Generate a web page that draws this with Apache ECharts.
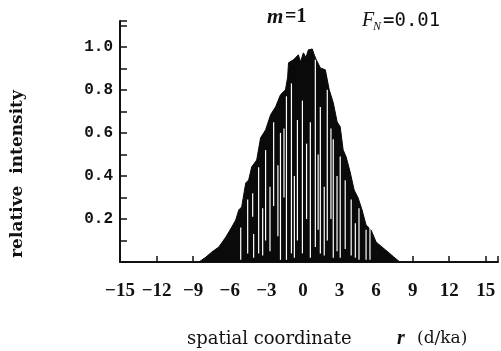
<!DOCTYPE html>
<html>
<head>
<meta charset="utf-8">
<script src="https://cdn.jsdelivr.net/npm/echarts@6/dist/echarts.min.js"></script>
<style>
html,body{margin:0;padding:0;background:#fff;}
#chart{width:501px;height:351px;}
</style>
</head>
<body>
<div id="chart"></div>
<script>
// Envelope of the intensity profile (x in d/ka, y relative intensity)
var envX = [-8.52,-7.95,-7.46,-6.89,-6.32,-5.83,-5.51,-5.26,-5.02,-4.69,-4.45,-4.20,-3.79,-3.47,-3.06,-2.65,-2.24,-1.84,-1.43,-1.25,-1.18,-0.77,-0.37,-0.2,0.04,0.25,0.45,0.77,0.95,1.10,1.43,1.84,2.16,2.49,2.81,3.06,3.30,3.55,3.87,4.20,4.53,4.85,5.18,5.59,6.00,6.48,6.97,7.46,7.95];
var envY = [0,0.023,0.047,0.07,0.116,0.163,0.195,0.242,0.256,0.367,0.381,0.442,0.474,0.577,0.614,0.684,0.721,0.777,0.80,0.86,0.926,0.94,0.963,0.93,0.972,0.95,0.986,0.99,0.96,0.94,0.902,0.893,0.80,0.74,0.651,0.628,0.521,0.488,0.419,0.335,0.298,0.242,0.172,0.149,0.093,0.07,0.047,0.023,0];
// White gaps inside the profile: position, lower and upper value
var gapX    = [-5.10,-4.53,-4.12,-4.04,-3.63,-3.30,-3.06,-2.70,-2.40,-2.05,-1.84,-1.55,-1.35,-0.94,-0.70,-0.45,-0.04,0.30,0.61,1.02,1.25,1.43,1.75,2.00,2.30,2.49,2.80,3.06,3.47,3.96,4.30,4.60,5.18,5.50];
var gapLow  = [0.01,0.04,0.21,0.02,0.04,0.03,0.10,0.05,0.26,0.12,0.01,0.30,0.01,0.04,0.02,0.10,0.04,0.20,0.02,0.07,0.15,0.04,0.03,0.10,0.20,0.02,0.05,0.02,0.06,0.03,0.02,0.01,0.01,0.01];
var gapHigh = [0.16,0.29,0.32,0.13,0.44,0.25,0.52,0.35,0.65,0.45,0.60,0.62,0.77,0.83,0.40,0.66,0.75,0.55,0.65,0.94,0.50,0.72,0.35,0.80,0.62,0.57,0.40,0.49,0.38,0.29,0.18,0.25,0.15,0.17];
// Axis ticks
var xMin = -15, xMax = 16, xStep = 3;
var yMin = 0, yMax = 1.12, yStep = 0.2;

var chart = echarts.init(document.getElementById('chart'), null, {renderer:'canvas'});
var ink = '#111';
var option = {
  animation: false,
  backgroundColor: '#fff',
  grid: {left:120, right:0, top:21, bottom:89, containLabel:false},
  xAxis: {
    type:'value', min:xMin, max:xMax, interval:xStep,
    axisLine:{show:true, onZero:false, lineStyle:{color:ink, width:2}},
    axisTick:{show:true, inside:true, length:6, lineStyle:{color:ink, width:1.5}},
    axisLabel:{
      margin:20, color:ink, fontFamily:'Liberation Serif', fontWeight:'bold', fontSize:19,
      formatter:function(v){ if (v > 15) return ''; return String(v).replace('-', '\u2212'); }
    },
    splitLine:{show:false}
  },
  yAxis: {
    type:'value', min:yMin, max:yMax, interval:yStep,
    axisLine:{show:true, onZero:false, lineStyle:{color:ink, width:2}},
    axisTick:{show:true, inside:true, length:7, lineStyle:{color:ink, width:1.5}},
    minorTick:{show:true, splitNumber:2, length:7, lineStyle:{color:ink, width:1.5}},
    axisLabel:{
      margin:7, color:ink, fontFamily:'Liberation Mono', fontWeight:'bold', fontSize:16,
      showMinLabel:false, showMaxLabel:false,
      formatter:function(v){ if (v === 0 || v > 1.05) return ''; return v.toFixed(1); }
    },
    splitLine:{show:false}
  },
  series: [
    {
      type:'line', data: envX.map(function(x,i){return [x, envY[i]];}),
      showSymbol:false, smooth:false,
      lineStyle:{color:'#0a0a0a', width:1},
      areaStyle:{color:'#0a0a0a', opacity:1},
      z:2
    },
    {
      type:'custom', z:3,
      data: gapX.map(function(x,i){return [x, gapLow[i], gapHigh[i]];}),
      encode:{x:0, y:[1,2]},
      renderItem:function(params, api){
        var p1 = api.coord([api.value(0), api.value(1)]);
        var p2 = api.coord([api.value(0), api.value(2)]);
        return {type:'rect', shape:{x:p1[0]-0.6, y:p2[1], width:1.2, height:p1[1]-p2[1]}, style:{fill:'#fff'}};
      }
    }
  ],
  graphic: [
    {type:'text', left:267, top:7, style:{text:'m', fontFamily:'Liberation Serif', fontStyle:'italic', fontWeight:'bold', fontSize:21, fill:ink}},
    {type:'text', left:285, top:7, style:{text:'=1', fontFamily:'Liberation Serif', fontWeight:'bold', fontSize:20, fill:ink}},
    {type:'text', left:362, top:11, style:{text:'F', fontFamily:'Liberation Serif', fontStyle:'italic', fontSize:20, fill:ink}},
    {type:'text', left:373, top:21, style:{text:'N', fontFamily:'Liberation Serif', fontStyle:'italic', fontSize:12, fill:ink}},
    {type:'text', left:383, top:12, style:{text:'=0.01', fontFamily:'DejaVu Sans Mono', fontSize:19, fill:ink}},
    {type:'text', x:18, y:174, rotation:Math.PI/2, style:{text:'relative  intensity', fontFamily:'DejaVu Serif', fontWeight:'bold', fontSize:17, fill:ink, align:'center', verticalAlign:'middle'}},
    {type:'text', left:187, top:330, style:{text:'spatial coordinate', fontFamily:'DejaVu Serif', fontSize:18, fill:ink}},
    {type:'text', left:397, top:329, style:{text:'r', fontFamily:'Liberation Serif', fontStyle:'italic', fontWeight:'bold', fontSize:20, fill:ink}},
    {type:'text', left:417, top:330, style:{text:'(d/ka)', fontFamily:'DejaVu Serif', fontSize:17, fill:ink}}
  ]
};
chart.setOption(option);
</script>
</body>
</html>
